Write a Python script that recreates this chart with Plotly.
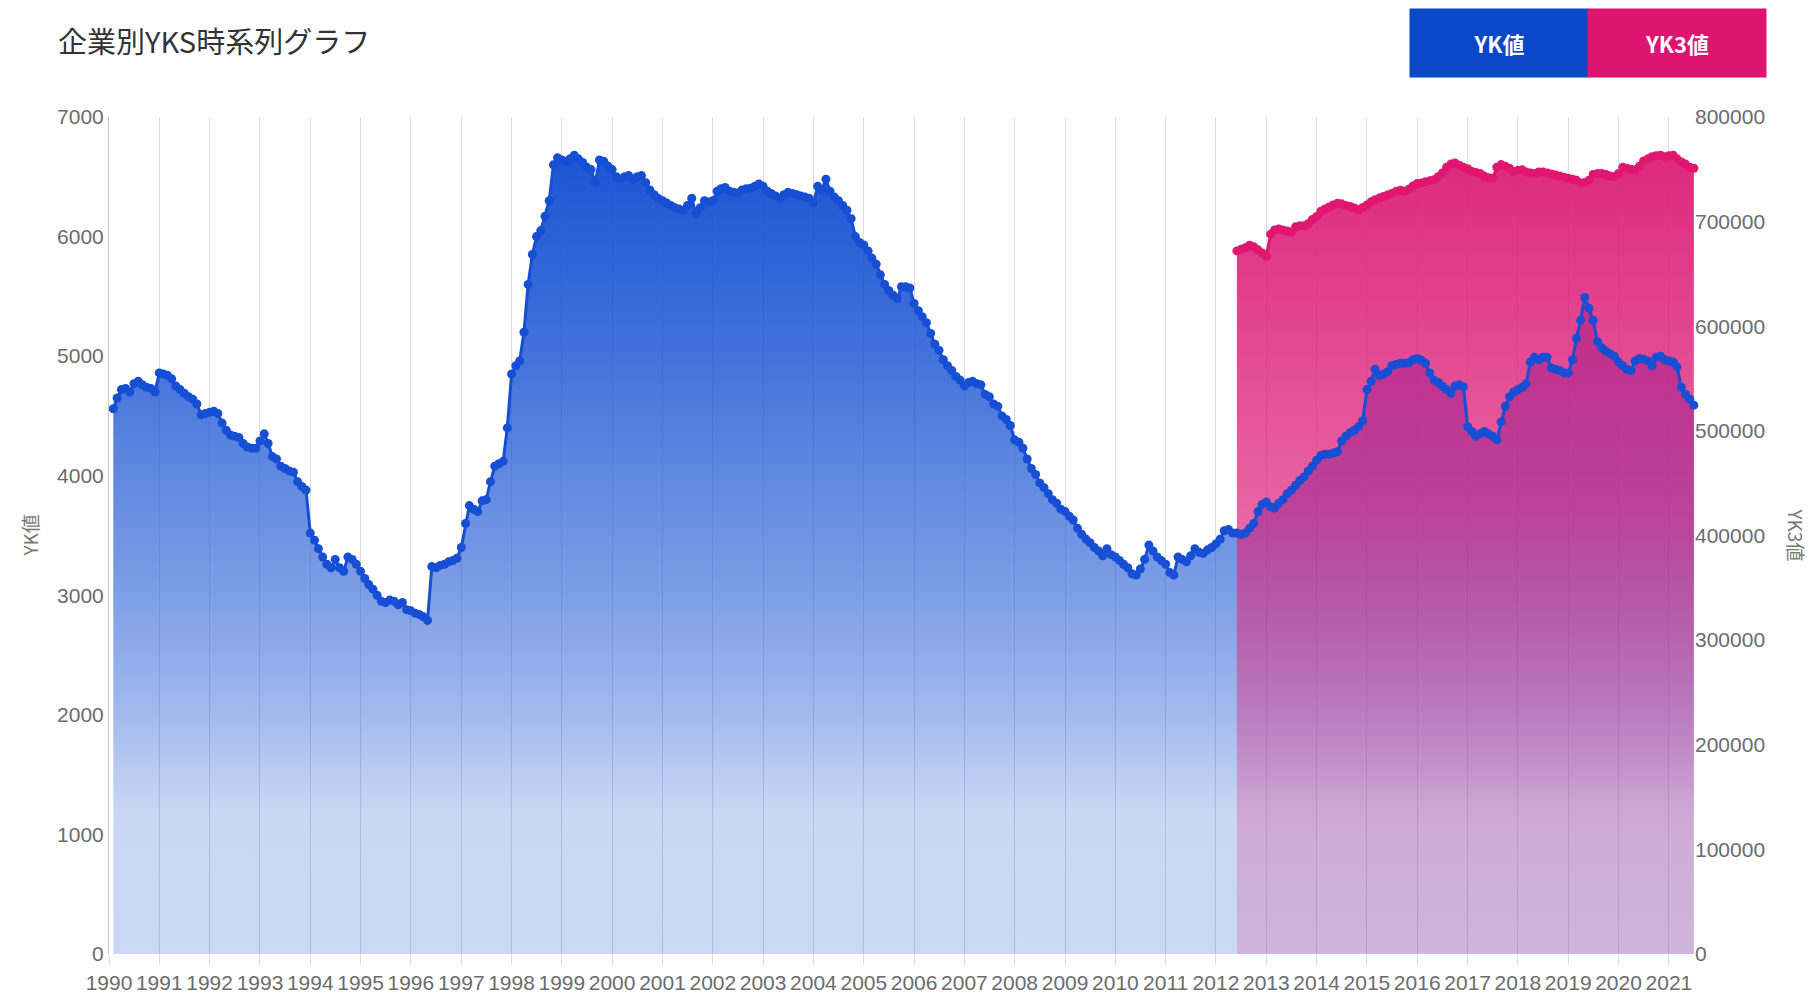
import pandas as pd
import plotly.graph_objects as go

# ---------------- data ----------------
yk_start = "1990-02-01"
yk_values = [
    4560, 4650, 4720, 4730, 4700, 4770, 4790, 4760, 4740, 4730, 4700,              # 1990 (Feb-Dec)
    4860, 4850, 4840, 4810, 4750, 4720, 4690, 4660, 4640, 4600, 4510, 4520,        # 1991
    4530, 4540, 4520, 4440, 4380, 4340, 4330, 4320, 4270, 4240, 4230, 4230,        # 1992
    4290, 4350, 4270, 4160, 4140, 4080, 4060, 4040, 4030, 3950, 3910, 3880,        # 1993
    3520, 3460, 3390, 3320, 3260, 3230, 3300, 3230, 3200, 3320, 3300, 3260,        # 1994
    3200, 3140, 3090, 3050, 3000, 2950, 2940, 2960, 2950, 2920, 2940, 2880,        # 1995
    2870, 2850, 2840, 2820, 2790, 3240, 3230, 3250, 3260, 3280, 3290, 3310,        # 1996
    3400, 3600, 3750, 3720, 3700, 3790, 3800, 3950, 4080, 4100, 4120, 4400,        # 1997
    4850, 4920, 4960, 5200, 5600, 5850, 6000, 6050, 6170, 6300, 6600, 6660,        # 1998
    6640, 6630, 6650, 6680, 6650, 6620, 6580, 6560, 6450, 6640, 6630, 6590,        # 1999
    6560, 6500, 6480, 6500, 6510, 6480, 6500, 6510, 6450, 6390, 6350, 6320,        # 2000
    6300, 6280, 6260, 6240, 6230, 6220, 6260, 6320, 6190, 6240, 6300, 6290,        # 2001
    6300, 6380, 6400, 6410, 6380, 6370, 6365, 6390, 6400, 6405, 6420, 6440,        # 2002
    6420, 6380, 6360, 6340, 6320, 6350, 6370, 6360, 6350, 6340, 6330, 6320,        # 2003
    6280, 6420, 6390, 6480, 6380, 6330, 6300, 6260, 6220, 6150, 6000, 5950,        # 2004
    5930, 5880, 5820, 5770, 5680, 5600, 5550, 5510, 5480, 5580, 5580, 5570,        # 2005
    5440, 5380, 5330, 5280, 5190, 5100, 5050, 4970, 4920, 4880, 4830, 4800,        # 2006
    4750, 4780, 4790, 4770, 4760, 4680, 4660, 4600, 4580, 4500, 4470, 4420,        # 2007
    4300, 4280, 4230, 4140, 4060, 4010, 3940, 3900, 3850, 3800, 3770, 3720,        # 2008
    3700, 3660, 3630, 3560, 3510, 3470, 3440, 3400, 3370, 3330, 3390, 3340,        # 2009
    3320, 3290, 3260, 3230, 3180, 3170, 3220, 3300, 3420, 3370, 3320, 3290,        # 2010
    3260, 3190, 3170, 3320, 3300, 3280, 3330, 3390, 3360, 3350, 3380, 3400,        # 2011
    3430, 3470, 3540, 3550, 3520, 3520, 3510, 3520, 3560, 3600, 3700, 3760,        # 2012
    3780, 3740, 3730, 3770, 3800, 3850, 3880, 3920, 3960, 3990, 4040, 4080,        # 2013
    4130, 4170, 4180, 4180, 4190, 4200, 4290, 4330, 4360, 4380, 4410, 4460,        # 2014
    4720, 4790, 4890, 4840, 4850, 4870, 4920, 4930, 4940, 4940, 4945, 4970,        # 2015
    4980, 4965, 4940, 4860, 4800, 4780, 4750, 4720, 4690, 4750, 4760, 4745,        # 2016
    4410, 4370, 4330, 4350, 4370, 4350, 4330, 4300, 4450, 4580, 4660, 4700,        # 2017
    4720, 4740, 4770, 4950, 4990, 4970, 4990, 4990, 4900, 4890, 4880, 4860,        # 2018
    4860, 4970, 5150, 5300, 5490, 5400, 5300, 5120, 5070, 5040, 5020, 5000,        # 2019
    4950, 4920, 4890, 4880, 4960, 4980, 4975, 4960, 4920, 4990, 5000, 4970,        # 2020
    4960, 4950, 4910, 4740, 4680, 4640, 4590,                                      # 2021 (Jan-Jul)
]

yk3_start = "2012-06-01"
yk3_values = [
    672000, 673500, 675000, 677500, 676000, 673000, 670000,                                          # 2012 (Jun-Dec)
    667000, 688000, 692000, 693000, 692000, 691000, 690000, 695000, 696000, 696000, 698000, 702000,  # 2013
    705000, 710000, 712000, 714000, 716000, 717500, 717000, 715500, 714500, 713000, 711000, 713500,  # 2014
    716000, 719000, 721000, 722500, 724000, 725500, 727000, 729000, 730000, 729000, 731000, 734000,  # 2015
    736500, 737000, 738000, 739000, 740000, 743000, 746500, 752000, 755000, 756000, 754000, 752000,  # 2016
    750500, 748000, 747000, 746000, 743500, 742000, 741500, 752000, 754500, 753000, 751000, 748000,  # 2017
    749000, 749500, 747500, 746500, 746000, 747500, 747500, 746500, 745500, 744500, 743500, 742500,  # 2018
    741500, 740500, 739500, 737000, 737500, 739500, 745000, 746000, 746000, 745000, 743500, 743000,  # 2019
    746000, 752000, 751000, 750000, 749500, 753000, 758000, 760000, 762000, 763000, 763500, 762000,  # 2020
    763000, 763500, 760000, 757000, 755000, 752000, 751000,                                          # 2021 (Jan-Jul)
]

yk_dates = pd.date_range(yk_start, periods=len(yk_values), freq="MS")
yk3_dates = pd.date_range(yk3_start, periods=len(yk3_values), freq="MS")

title_text = "企業別YKS時系列グラフ"
series_names = ["YK値", "YK3値"]
left_ticks = [0, 1000, 2000, 3000, 4000, 5000, 6000, 7000]
right_ticks = [0, 100000, 200000, 300000, 400000, 500000, 600000, 700000, 800000]

# ---------------- styles ----------------
BLUE = "rgb(22,78,212)"
PINK = "rgb(224,22,112)"
LEG_BLUE = "rgb(10,72,200)"
LEG_PINK = "rgb(221,20,112)"
TICK_FONT = dict(family="Liberation Sans, Arial, sans-serif", size=21, color="#6b6b6b")
GRID = "#dcdde2"

blue_scale = [
    [0.00, "rgba(20,80,210,0.22)"],
    [0.17, "rgba(20,80,210,0.23)"],
    [0.29, "rgba(20,80,210,0.40)"],
    [0.43, "rgba(20,80,210,0.55)"],
    [0.71, "rgba(20,80,210,0.80)"],
    [0.94, "rgba(20,80,210,0.96)"],
    [1.00, "rgba(20,80,210,0.97)"],
]
pink_scale = [
    [0.00, "rgba(221,36,124,0.20)"],
    [0.15, "rgba(221,36,124,0.24)"],
    [0.52, "rgba(221,36,124,0.70)"],
    [0.94, "rgba(221,36,124,0.97)"],
    [1.00, "rgba(221,36,124,0.98)"],
]

fig = go.Figure()

# YK area fill (base layer)
fig.add_trace(go.Scatter(
    x=yk_dates, y=yk_values, name=series_names[0], mode="lines",
    line=dict(width=0, color=BLUE), fill="tozeroy",
    fillgradient=dict(type="vertical", colorscale=blue_scale, start=0, stop=7000),
    xaxis="x", yaxis="y", hoverinfo="skip",
))

# YK3 area + line + markers (right axis)
fig.add_trace(go.Scatter(
    x=yk3_dates, y=yk3_values, name=series_names[1], mode="lines+markers",
    line=dict(width=3, color=PINK), marker=dict(size=9, color=PINK),
    fill="tozeroy",
    fillgradient=dict(type="vertical", colorscale=pink_scale, start=0, stop=800000),
    xaxis="x", yaxis="y2", cliponaxis=False,
))

# YK line + markers on top
fig.add_trace(go.Scatter(
    x=yk_dates, y=yk_values, name=series_names[0], mode="lines+markers",
    line=dict(width=3, color=BLUE), marker=dict(size=9, color=BLUE),
    xaxis="x", yaxis="y3", cliponaxis=False,
))

L, R, T, B = 109, 123, 117, 41
W, H = 1817, 995
pw, ph = W - L - R, H - T - B

def px(xf):
    return (xf - L) / pw

def py(yf):
    return (H - B - yf) / ph

fig.update_layout(
    width=W, height=H,
    margin=dict(l=L, r=R, t=T, b=B, autoexpand=False),
    paper_bgcolor="white", plot_bgcolor="white",
    showlegend=False,
    title=dict(text=title_text, x=58 / W, xanchor="left", y=1 - 43 / H, yanchor="middle",
               font=dict(family="Noto Sans CJK JP", size=29, color="#333333")),
    xaxis=dict(type="date", range=["1990-01-01", "2021-07-02"], dtick="M12", tick0="1990-01-01",
               tickformat="%Y", tickangle=0, showgrid=True, gridcolor=GRID, gridwidth=1,
               ticks="outside", ticklen=10, tickcolor=GRID, tickfont=TICK_FONT,
               zeroline=False, showline=False, automargin=False),
    yaxis=dict(range=[0, 7000], tickvals=left_ticks, tickformat="d", showgrid=False,
               zeroline=False, showline=True, linecolor="#c9c9c9", linewidth=1,
               ticks="", tickfont=TICK_FONT, automargin=False),
    yaxis2=dict(overlaying="y", side="right", range=[0, 800000], tickvals=right_ticks,
                tickformat="d", showgrid=False, zeroline=False, showline=False,
                ticks="", tickfont=TICK_FONT, automargin=False),
    yaxis3=dict(overlaying="y", range=[0, 7000], visible=False),
    annotations=[
        dict(text="YK値", xref="paper", yref="paper", x=px(29), y=0.5, textangle=-90,
             xanchor="center", yanchor="middle",
             showarrow=False, font=dict(family="Noto Sans CJK JP", size=19, color="#777777")),
        dict(text="YK3値", xref="paper", yref="paper", x=px(1796), y=0.5, textangle=90,
             xanchor="center", yanchor="middle",
             showarrow=False, font=dict(family="Noto Sans CJK JP", size=19, color="#777777")),
        dict(text="<b>" + series_names[0] + "</b>", xref="paper", yref="paper",
             x=px(1499), y=py(43), xanchor="center", yanchor="middle", showarrow=False,
             width=178, height=68, bgcolor=LEG_BLUE, borderpad=0,
             font=dict(family="Noto Sans CJK JP", size=22, color="white")),
        dict(text="<b>" + series_names[1] + "</b>", xref="paper", yref="paper",
             x=px(1677), y=py(43), xanchor="center", yanchor="middle", showarrow=False,
             width=178, height=68, bgcolor=LEG_PINK, borderpad=0,
             font=dict(family="Noto Sans CJK JP", size=22, color="white")),
    ],
)

fig.write_html("out.html", config={"displayModeBar": False},
               post_script="document.body.style.margin='0';document.body.style.overflow='hidden';")
